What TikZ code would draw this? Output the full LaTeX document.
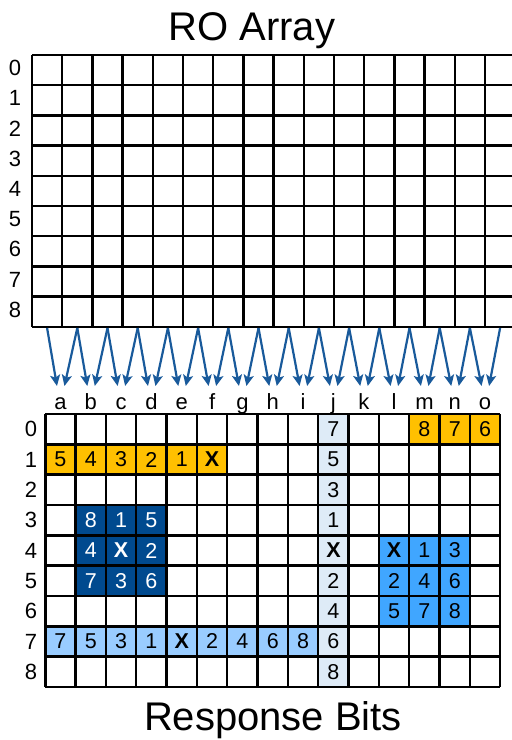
\documentclass[tikz,border=0pt]{standalone}
\usepackage{fontspec}
\setmainfont{Liberation Sans}
\usetikzlibrary{arrows.meta,positioning,calc}

\definecolor{gold}{RGB}{255,192,0}
\definecolor{navy}{RGB}{0,74,143}
\definecolor{sky}{RGB}{64,166,255}
\definecolor{pale}{RGB}{153,204,255}
\definecolor{mist}{RGB}{222,235,247}
\definecolor{wire}{RGB}{25,90,155}

% grid geometry (pt)
\def\tx{32}\def\ty{55}\def\tw{30.2}
\def\bx{45.3}\def\by{414}\def\bw{30.33}

\begin{document}
\begin{tikzpicture}[x=1pt, y=-1pt,
    cell/.style={minimum size=\bw pt, inner sep=0pt, font=\fontsize{21.5}{21.5}\selectfont},
    lbl/.style={inner sep=0pt, font=\fontsize{22}{22}\selectfont},
    ttl/.style={anchor=base, inner sep=0pt, font=\fontsize{40}{40}\selectfont},
    gridline/.style={line width=2.4pt, black},
    arr/.style={wire, line width=2.2pt, -{Stealth[length=11pt, width=10pt, inset=2.5pt]}}]
    \useasboundingbox (0,0) rectangle (512,740);
    \clip (0,0) rectangle (512,740);

    \node[ttl] (ro) at (251.7,40) {RO Array};
    \node[ttl] (rb) at (273,730) {Response Bits};

    % RO array
    \foreach \i in {0,...,9}
        \draw[gridline] (\tx,{\ty+\tw*\i}) -- (520,{\ty+\tw*\i});
    \foreach \k in {0,...,15}
        \draw[gridline] ({\tx+\tw*\k},\ty) -- ({\tx+\tw*\k},{\ty+\tw*9});
    \foreach \r in {0,...,8}
        \node[lbl] (tr\r) at (15,{\ty+\tw*(\r+0.5)-2}) {\r};

    % response bits
    \foreach \c/\r/\f/\t/\tc in {
        9/0/mist/7/black, 12/0/gold/8/black, 13/0/gold/7/black, 14/0/gold/6/black,
        0/1/gold/5/black, 1/1/gold/4/black, 2/1/gold/3/black, 3/1/gold/2/black,
        4/1/gold/1/black, 5/1/gold/{\textbf{X}}/black, 9/1/mist/5/black,
        9/2/mist/3/black,
        1/3/navy/8/white, 2/3/navy/1/white, 3/3/navy/5/white, 9/3/mist/1/black,
        1/4/navy/4/white, 2/4/navy/{\textbf{X}}/white, 3/4/navy/2/white,
        9/4/mist/{\textbf{X}}/black,
        11/4/sky/{\textbf{X}}/black, 12/4/sky/1/black, 13/4/sky/3/black,
        1/5/navy/7/white, 2/5/navy/3/white, 3/5/navy/6/white, 9/5/mist/2/black,
        11/5/sky/2/black, 12/5/sky/4/black, 13/5/sky/6/black,
        9/6/mist/4/black, 11/6/sky/5/black, 12/6/sky/7/black, 13/6/sky/8/black,
        0/7/pale/7/black, 1/7/pale/5/black, 2/7/pale/3/black, 3/7/pale/1/black,
        4/7/pale/{\textbf{X}}/black, 5/7/pale/2/black, 6/7/pale/4/black,
        7/7/pale/6/black, 8/7/pale/8/black, 9/7/mist/6/black,
        9/8/mist/8/black}
        \node[cell, fill=\f, text=\tc] (b-\c-\r) at ({\bx+\bw*(\c+0.5)},{\by+\bw*(\r+0.5)}) {\t};
    \foreach \i in {0,...,9}
        \draw[gridline] (\bx,{\by+\bw*\i}) -- ({\bx+\bw*15},{\by+\bw*\i});
    \foreach \k in {0,...,15}
        \draw[gridline] ({\bx+\bw*\k},\by) -- ({\bx+\bw*\k},{\by+\bw*9});
    \foreach \r in {0,...,8}
        \node[lbl] (br\r) at (31,{\by+\bw*(\r+0.5)}) {\r};
    \foreach \l [count=\j from 0] in {a,b,c,d,e,f,g,h,i,j,k,l,m,n,o}
        \node[lbl, anchor=base] (cl-\l) at ({\bx+\bw*(\j+0.5)},409) {\l};

    % wiring
    \foreach \k in {0,...,15}
        \coordinate (src\k) at ({\tx+\tw*(\k+0.5)},328);
    \foreach \j [evaluate=\j as \n using int(\j+1)] in {0,...,14} {
        \coordinate (dl\j) at ({\bx+\bw*(\j+0.5)-3.5},386);
        \coordinate (dr\j) at ({\bx+\bw*(\j+0.5)+4},386);
        \draw[arr] (src\j) -- (dl\j);
        \draw[arr] (src\n) -- (dr\j);
    }
\end{tikzpicture}
\end{document}
